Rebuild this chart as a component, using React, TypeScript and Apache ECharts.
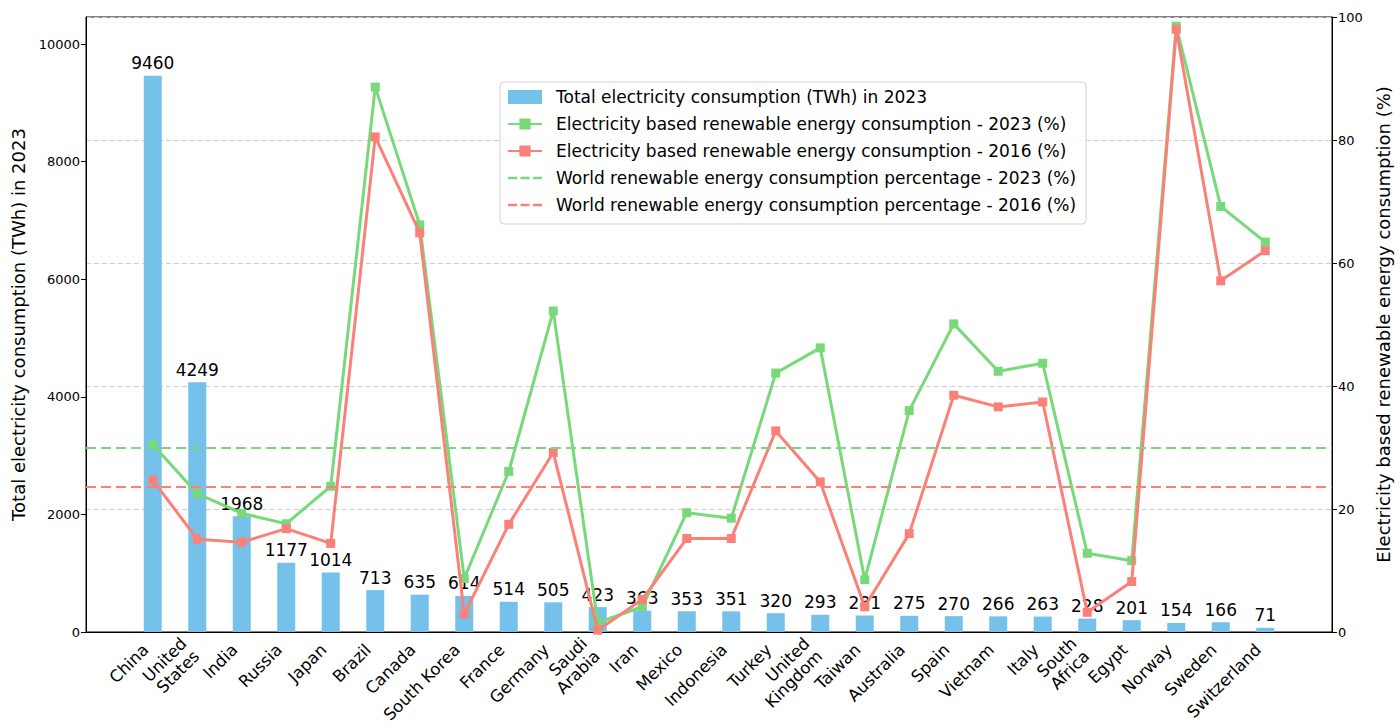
import React, { useEffect, useRef } from "react";
import * as echarts from "echarts";

const categories = [
  "China", "United\nStates", "India", "Russia", "Japan", "Brazil", "Canada", "South Korea",
  "France", "Germany", "Saudi\nArabia", "Iran", "Mexico", "Indonesia", "Turkey", "United\nKingdom",
  "Taiwan", "Australia", "Spain", "Vietnam", "Italy", "South\nAfrica", "Egypt", "Norway",
  "Sweden", "Switzerland",
];
const consumption2023 = [
  9460, 4249, 1968, 1177, 1014, 713, 635, 614, 514, 505, 423, 363, 353, 351, 320, 293,
  281, 275, 270, 266, 263, 228, 201, 154, 166, 71,
];
const renewable2023 = [
  30.5, 22.5, 19.3, 17.6, 23.7, 88.6, 66.2, 8.7, 26.1, 52.2, 1.5, 4.1, 19.4, 18.5, 42.1, 46.2,
  8.5, 36.0, 50.1, 42.4, 43.7, 12.8, 11.6, 98.5, 69.2, 63.4,
];
const renewable2016 = [
  24.7, 15.1, 14.6, 16.8, 14.4, 80.5, 64.9, 2.9, 17.5, 29.2, 0.3, 5.3, 15.2, 15.2, 32.7, 24.4,
  4.1, 16.0, 38.5, 36.6, 37.4, 3.2, 8.2, 98.0, 57.1, 62.0,
];
const worldRenewable2023 = 30.0;
const worldRenewable2016 = 23.6;

const leftMax = 10460;
const rightMax = 100;

const names = {
  bar: "Total electricity consumption (TWh) in 2023",
  g: "Electricity based renewable energy consumption - 2023 (%)",
  r: "Electricity based renewable energy consumption - 2016 (%)",
  wg: "World renewable energy consumption percentage - 2023 (%)",
  wr: "World renewable energy consumption percentage - 2016 (%)",
};

const FONT = "DejaVu Sans";
const BLUE = "#76c1ea";
const GREEN = "#77d97a";
const RED = "#fa8078";
const DASH_ICON = "path://M0,0h9v2.4h-9zM12.5,0h9v2.4h-9zM25,0h9v2.4h-9z";

export default function App() {
  const ref = useRef<HTMLDivElement>(null);
  useEffect(() => {
    if (!ref.current) return;
    const chart = echarts.init(ref.current, null, { renderer: "svg" });
    const xData = ["\u200b", ...categories, "\u200b\u200b"];
    const pad = (arr: number[]) => [null, ...arr, null];
    const visible = (idx: number) => idx > 0 && idx < xData.length - 1;
    chart.setOption({
      animation: false,
      textStyle: { fontFamily: FONT },
      grid: {
        left: 86, right: 68, top: 17, bottom: 96,
        show: true, borderColor: "#000", borderWidth: 1, backgroundColor: "transparent",
      },
      legend: {
        orient: "vertical",
        left: 500, top: 82,
        padding: [5, 10, 9, 7],
        itemGap: 7,
        itemWidth: 34, itemHeight: 14,
        symbolKeepAspect: true,
        borderColor: "#d0d0d0", borderWidth: 1, borderRadius: 4,
        backgroundColor: "rgba(255,255,255,0.85)",
        textStyle: { fontFamily: FONT, fontSize: 17, color: "#000", padding: [0, 0, 0, 9], lineHeight: 20 },
        data: [
          { name: names.bar, icon: "rect", itemStyle: { color: BLUE } },
          { name: names.g },
          { name: names.r },
          { name: names.wg, icon: DASH_ICON, itemStyle: { color: GREEN, borderWidth: 0 } },
          { name: names.wr, icon: DASH_ICON, itemStyle: { color: RED, borderWidth: 0 } },
        ],
      },
      xAxis: {
        type: "category",
        data: xData,
        boundaryGap: true,
        axisLine: { lineStyle: { color: "#000", width: 1 } },
        axisTick: { alignWithLabel: true, interval: (i: number) => visible(i), length: 5, lineStyle: { color: "#000" } },
        axisLabel: {
          interval: (i: number) => visible(i),
          rotate: 45, color: "#000", fontSize: 16.5, fontFamily: FONT, margin: 8, lineHeight: 18,
          padding: [0, 10, 0, 0],
        },
        splitLine: { show: false },
      },
      yAxis: [
        {
          type: "value", position: "left", min: 0, max: leftMax, interval: 2000,
          name: names.bar, nameLocation: "middle", nameGap: 57, nameRotate: 90,
          nameTextStyle: { fontFamily: FONT, fontSize: 18, color: "#000" },
          axisLine: { show: true, lineStyle: { color: "#000" } },
          axisTick: { show: true, length: 5, lineStyle: { color: "#000" } },
          axisLabel: {
            color: "#000", fontSize: 13, fontFamily: FONT, showMaxLabel: false, margin: 6,
            formatter: (v: number) => String(v),
          },
          splitLine: { show: false },
        },
        {
          type: "value", position: "right", min: 0, max: rightMax, interval: 20,
          name: "Electricity based renewable energy consumption (%)", nameLocation: "middle", nameGap: 42, nameRotate: 90,
          nameTextStyle: { fontFamily: FONT, fontSize: 18, color: "#000" },
          axisLine: { show: true, lineStyle: { color: "#000" } },
          axisTick: { show: true, length: 5, lineStyle: { color: "#000" } },
          axisLabel: { color: "#000", fontSize: 13, fontFamily: FONT, margin: 6 },
          splitLine: { show: true, lineStyle: { color: "#cfcfcf", type: [5, 3], width: 1 } },
        },
      ],
      series: [
        {
          name: names.bar, type: "bar", yAxisIndex: 0, data: pad(consumption2023), barWidth: 18,
          itemStyle: { color: BLUE },
          label: { show: true, position: "top", distance: 4, color: "#000", fontSize: 17, fontFamily: FONT },
          z: 1,
        },
        {
          name: names.wg, type: "line", yAxisIndex: 1, data: xData.map(() => null), symbol: "none",
          lineStyle: { color: GREEN, width: 2, type: [10, 5] }, itemStyle: { color: GREEN },
          markLine: {
            silent: true, symbol: ["none", "none"], label: { show: false },
            lineStyle: { color: GREEN, width: 2.2, type: [10, 5] },
            data: [{ yAxis: worldRenewable2023 }],
          },
          z: 2,
        },
        {
          name: names.wr, type: "line", yAxisIndex: 1, data: xData.map(() => null), symbol: "none",
          lineStyle: { color: RED, width: 2, type: [10, 5] }, itemStyle: { color: RED },
          markLine: {
            silent: true, symbol: ["none", "none"], label: { show: false },
            lineStyle: { color: RED, width: 2.2, type: [10, 5] },
            data: [{ yAxis: worldRenewable2016 }],
          },
          z: 2,
        },
        {
          name: names.g, type: "line", yAxisIndex: 1, data: pad(renewable2023),
          symbol: "rect", symbolSize: 9, showAllSymbol: true,
          lineStyle: { color: GREEN, width: 3 }, itemStyle: { color: GREEN },
          z: 3,
        },
        {
          name: names.r, type: "line", yAxisIndex: 1, data: pad(renewable2016),
          symbol: "rect", symbolSize: 9, showAllSymbol: true,
          lineStyle: { color: RED, width: 3 }, itemStyle: { color: RED },
          z: 4,
        },
      ],
    });
    return () => chart.dispose();
  }, []);
  return (
    <div
      ref={ref}
      style={{ position: "fixed", left: 0, top: 0, width: 1400, height: 728, background: "#fff" }}
    />
  );
}
